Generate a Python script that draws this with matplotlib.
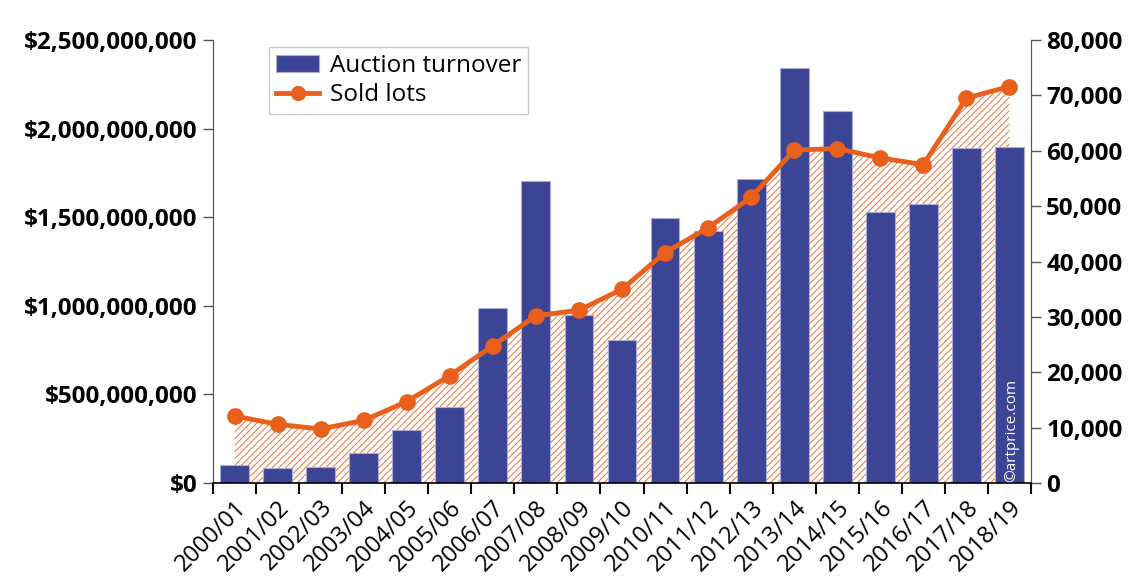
import matplotlib
matplotlib.use("Agg")
import matplotlib.pyplot as plt
import numpy as np
from matplotlib.ticker import FuncFormatter, FixedLocator

plt.rcParams['font.family'] = ['Open Sans', 'DejaVu Sans']
plt.rcParams['hatch.linewidth'] = 0.75

seasons = ["2000/01", "2001/02", "2002/03", "2003/04", "2004/05", "2005/06",
           "2006/07", "2007/08", "2008/09", "2009/10", "2010/11", "2011/12",
           "2012/13", "2013/14", "2014/15", "2015/16", "2016/17", "2017/18",
           "2018/19"]
turnover = [102e6, 85e6, 89e6, 168e6, 299e6, 431e6, 988e6, 1704e6, 950e6,
            805e6, 1494e6, 1420e6, 1717e6, 2340e6, 2101e6, 1528e6, 1576e6,
            1892e6, 1894e6]
sold_lots = [12100, 10600, 9750, 11300, 14700, 19400, 24800, 30200, 31200,
             35000, 41600, 46100, 51600, 60100, 60400, 58700, 57500, 69500,
             71600]

BAR = "#3c4495"
ORANGE = "#e8601c"
HATCH = "#f07a45"

fig = plt.figure(figsize=(11.4, 5.88), dpi=100)
ax1 = fig.add_axes([213/1140, 1-483/588, (1031-213)/1140, (483-40)/588])
ax2 = ax1.twinx()
ax1.set_zorder(ax2.get_zorder() + 1)
ax1.patch.set_visible(False)

x = np.arange(len(seasons))

# hatched area under sold lots (behind bars)
ax2.fill_between(x, 0, sold_lots, facecolor="white", edgecolor=HATCH,
                 hatch="/////", linewidth=0)

bars = ax1.bar(x, turnover, width=0.67, color=BAR, edgecolor="#a9acd6",
               linewidth=0.8, label="Auction turnover", zorder=2)
line, = ax1.plot(x, sold_lots, color=ORANGE, lw=3.5, marker="o", ms=11,
                 transform=ax2.transData, label="Sold lots", zorder=3)

ax1.set_xlim(-0.5, len(seasons) - 0.5)
ax1.set_ylim(0, 2.5e9)
ax2.set_ylim(0, 80000)

ax1.set_yticks(np.arange(0, 2.5e9 + 1, 5e8))
ax1.yaxis.set_major_formatter(FuncFormatter(lambda v, p: "${:,.0f}".format(v)))
ax2.set_yticks(np.arange(0, 80001, 10000))
ax2.yaxis.set_major_formatter(FuncFormatter(lambda v, p: "{:,.0f}".format(v)))

for ax in (ax1, ax2):
    ax.spines['top'].set_visible(False)
    ax.tick_params(axis='y', labelsize=17.5, length=7, width=1, color="#555555",
                   pad=4)
    for lab in ax.get_yticklabels():
        lab.set_fontweight("bold")
for s in ('left', 'right'):
    ax1.spines[s].set_color("#555555")
    ax2.spines[s].set_color("#555555")
ax1.spines['bottom'].set_color("black")
ax1.spines['bottom'].set_linewidth(1.2)
ax2.spines['bottom'].set_visible(False)

ax1.set_xticks(x)
ax1.set_xticklabels(seasons, rotation=45, ha="right", rotation_mode="anchor",
                    fontsize=17)
ax1.tick_params(axis='x', which='major', length=0, pad=9)
ax1.xaxis.set_minor_locator(FixedLocator(np.arange(-0.5, len(seasons), 1.0)))
ax1.tick_params(axis='x', which='minor', length=8, width=1.5, color="black")

leg = ax1.legend(handles=[bars, line], loc="upper left",
                 bbox_to_anchor=((269-213)/818, 1 - (47-40)/443),
                 fontsize=17.5, frameon=True, fancybox=False, borderaxespad=0,
                 handlelength=1.75, handletextpad=0.45, labelspacing=0.2,
                 borderpad=0.3, markerscale=0.9)
leg.get_frame().set_edgecolor("#bbbbbb")
leg.get_frame().set_linewidth(1.0)

ax1.text(len(seasons) - 1 + 0.05, 4e6, "©artprice.com", rotation=90,
         color="white", fontsize=11, ha="center", va="bottom", zorder=5)

fig.savefig("out.png", dpi=100)
